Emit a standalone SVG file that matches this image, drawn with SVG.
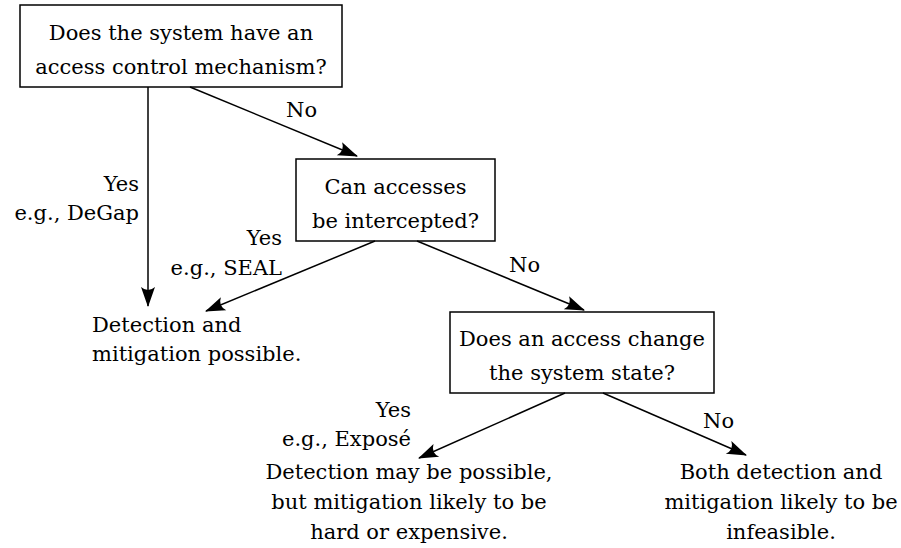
<svg xmlns="http://www.w3.org/2000/svg" width="901" height="548" viewBox="0 0 901 548">
  <style>
    text { font-family: "DejaVu Serif", "Liberation Serif", serif; font-size: 21px; fill: #000; }
    .c { text-anchor: middle; }
    .r { text-anchor: end; }
    .box { fill: #fff; stroke: #000; stroke-width: 1.5; }
    .edge { fill: none; stroke: #000; stroke-width: 1.5; marker-end: url(#head); }
  </style>
  <defs>
    <marker id="head" markerUnits="userSpaceOnUse" markerWidth="24" markerHeight="18" viewBox="-20 -9 22 18" refX="0" refY="0" orient="auto">
      <path d="M1,0 L-19,-7 Q-13,0 -19,7 Z" fill="#000"/>
    </marker>
  </defs>

  <rect width="901" height="548" fill="#fff"/>

  <!-- decision nodes -->
  <g id="q-access-control">
    <rect class="box" x="20" y="5" width="322" height="82"/>
    <text class="c" x="181" y="40">Does the system have an</text>
    <text class="c" x="181" y="74">access control mechanism?</text>
  </g>
  <g id="q-intercept">
    <rect class="box" x="296" y="159" width="199" height="82"/>
    <text class="c" x="395.5" y="194">Can accesses</text>
    <text class="c" x="395.5" y="228">be intercepted?</text>
  </g>
  <g id="q-state-change">
    <rect class="box" x="450" y="312" width="264" height="81"/>
    <text class="c" x="582" y="346">Does an access change</text>
    <text class="c" x="582" y="380">the system state?</text>
  </g>

  <!-- outcome nodes -->
  <g id="out-possible">
    <text x="92" y="332">Detection and</text>
    <text x="92" y="361">mitigation possible.</text>
  </g>
  <g id="out-hard">
    <text class="c" x="409" y="479">Detection may be possible,</text>
    <text class="c" x="409" y="509">but mitigation likely to be</text>
    <text class="c" x="409" y="539">hard or expensive.</text>
  </g>
  <g id="out-infeasible">
    <text class="c" x="781" y="479">Both detection and</text>
    <text class="c" x="781" y="509">mitigation likely to be</text>
    <text class="c" x="781" y="539">infeasible.</text>
  </g>

  <!-- connectors with their labels -->
  <g id="connectors">
    <line class="edge" x1="148" y1="87" x2="148" y2="306"/>
    <line class="edge" x1="190" y1="87" x2="357" y2="156"/>
    <line class="edge" x1="375" y1="241" x2="206" y2="311"/>
    <line class="edge" x1="417" y1="241" x2="584" y2="310"/>
    <line class="edge" x1="565" y1="393" x2="419" y2="458"/>
    <line class="edge" x1="603" y1="393" x2="746" y2="455"/>

    <text x="286" y="117">No</text>
    <text class="r" x="139" y="191">Yes</text>
    <text class="r" x="139" y="220">e.g., DeGap</text>
    <text class="r" x="282" y="245">Yes</text>
    <text class="r" x="282" y="275">e.g., SEAL</text>
    <text x="509" y="272">No</text>
    <text class="r" x="411" y="417">Yes</text>
    <text class="r" x="411" y="446">e.g., Exposé</text>
    <text x="703" y="428">No</text>
  </g>
</svg>
